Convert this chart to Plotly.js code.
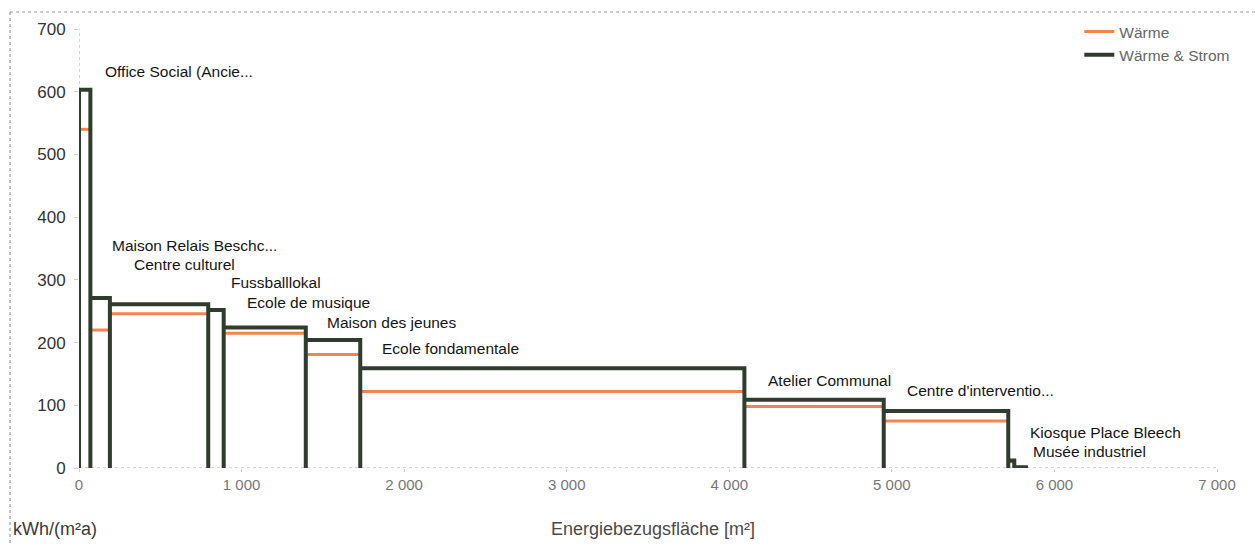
<!DOCTYPE html>
<html>
<head>
<meta charset="utf-8">
<script src="https://cdn.plot.ly/plotly-3.0.1.min.js"></script>
<style>html,body{margin:0;padding:0;background:#fff;}#chart{width:1255px;height:546px;}</style>
</head>
<body>
<div id="chart"></div>
<script>
// ---- data ----
const buildings = ['Office Social (Ancie...', 'Maison Relais Beschc...', 'Centre culturel', 'Fussballlokal',
  'Ecole de musique', 'Maison des jeunes', 'Ecole fondamentale', 'Atelier Communal',
  "Centre d'interventio...", 'Kiosque Place Bleech', 'Musée industriel'];
const areas = [70, 120, 605, 95, 505, 335, 2363, 857, 766, 37, 72];          // Energiebezugsfläche [m²]
const waermeStrom = [603, 271, 261, 252, 224, 204, 159, 109, 91, 12, 1];       // kWh/(m²a)
const waerme = [540, 220, 246, 252, 215, 181, 122, 98, 75, 10, 1];             // kWh/(m²a)
const xTicks = [0, 1000, 2000, 3000, 4000, 5000, 6000, 7000];
const yTicks = [0, 100, 200, 300, 400, 500, 600, 700];

// ---- label placement (pixels) ----
const labelXShift = [24, 20, 22, 21, 21, 19, 20, 22, 21, 20, 17];
const labelYShift = [18, 53, 40, 27, 25, 18, 20, 19, 20, 28, 16];

// ---- build step paths ----
const starts = [], ends = [];
let acc = 0;
areas.forEach(a => { starts.push(acc); acc += a; ends.push(acc); });

const gx = [], gy = [];
buildings.forEach((b, i) => {
  gx.push(starts[i], starts[i], ends[i], ends[i]);
  gy.push(0, waermeStrom[i], waermeStrom[i], 0);
});
const ox = [], oy = [];
buildings.forEach((b, i) => {
  ox.push(starts[i], ends[i], null);
  oy.push(waerme[i], waerme[i], null);
});

const font = 'Liberation Sans, Arial, sans-serif';
const greenCol = '#303c2e';
const orangeCol = '#f4844e';

const traces = [
  {x: ox, y: oy, type: 'scatter', mode: 'lines', name: 'Wärme', legendgroup: 'a',
   line: {color: orangeCol, width: 3}, connectgaps: false, hoverinfo: 'skip'},
  {x: gx, y: gy, type: 'scatter', mode: 'lines', name: 'Wärme & Strom', legendgroup: 'b',
   line: {color: greenCol, width: 4}, hoverinfo: 'skip'}
];

const annotations = buildings.map((b, i) => ({
  x: starts[i], y: waermeStrom[i], xref: 'x', yref: 'y', text: b, showarrow: false,
  xanchor: 'left', yanchor: 'middle', xshift: labelXShift[i], yshift: labelYShift[i],
  font: {family: font, size: 15.5, color: '#151515'}
}));
annotations.push({
  xref: 'paper', yref: 'paper', x: 0.5, y: -0.14, xanchor: 'center', yanchor: 'middle', xshift: 5,
  text: 'Energiebezugsfläche [m²]', showarrow: false,
  font: {family: font, size: 18, color: '#4a4a4a'}
});
annotations.push({
  xref: 'paper', yref: 'paper', x: 0, y: -0.14, xanchor: 'left', yanchor: 'middle', xshift: -68,
  text: 'kWh/(m²a)', showarrow: false, font: {family: font, size: 18, color: '#3a3a3a'}
});

const shapes = [
  {type: 'line', xref: 'x', yref: 'y', x0: 0, x1: 0, y0: 0, y1: 700, line: {color: '#aaa', width: 1, dash: 'dot'}, layer: 'below'},
  {type: 'line', xref: 'x', yref: 'y', x0: 0, x1: 7000, y0: 0, y1: 0, line: {color: '#aaa', width: 1, dash: 'dot'}, layer: 'below'},
  {type: 'line', xref: 'paper', yref: 'paper', x0: -0.0606, x1: 1.04, y0: 1.0387, y1: 1.0387, line: {color: '#999', width: 1, dash: 'dot'}},
  {type: 'line', xref: 'paper', yref: 'paper', x0: -0.0606, x1: -0.0606, y0: 1.0387, y1: -0.2, line: {color: '#888', width: 1, dash: 'dot'}}
];

const layout = {
  width: 1255, height: 546,
  margin: {l: 79, r: 38, t: 29, b: 78},
  paper_bgcolor: '#fff', plot_bgcolor: '#fff',
  separators: ', ',
  showlegend: true,
  legend: {x: 0.879, y: 1.032, xanchor: 'left', yanchor: 'top', bgcolor: 'rgba(0,0,0,0)',
           font: {family: font, size: 15.5, color: '#666'}, tracegroupgap: 0, traceorder: 'grouped'},
  xaxis: {range: [0, 7000], tickvals: xTicks, separatethousands: true, tickformat: ',d',
          showgrid: false, zeroline: false, showline: false, ticks: 'outside', ticklen: 3, tickcolor: '#ccc',
          tickfont: {family: font, size: 15, color: '#777'}, fixedrange: true},
  yaxis: {range: [0, 700], tickvals: yTicks, showgrid: false, zeroline: false, showline: false,
          ticks: 'outside', ticklen: 4, tickcolor: '#ccc', ticklabelstandoff: 5,
          tickfont: {family: font, size: 17, color: '#333'}, fixedrange: true},
  annotations: annotations,
  shapes: shapes
};

Plotly.newPlot('chart', traces, layout, {displayModeBar: false, staticPlot: true});
</script>
</body>
</html>
